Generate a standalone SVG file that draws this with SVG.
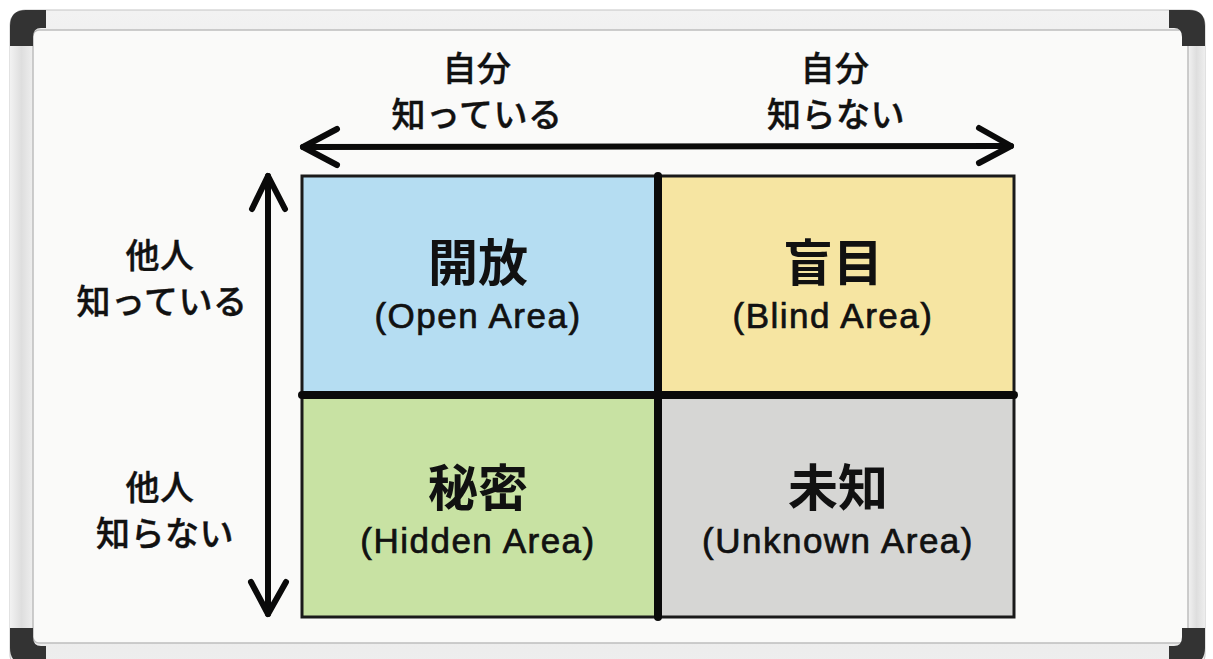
<svg xmlns="http://www.w3.org/2000/svg" width="1213" height="659" viewBox="0 0 1213 659">
  <defs>
    <linearGradient id="frameH" x1="0" y1="0" x2="0" y2="1">
      <stop offset="0" stop-color="#f2f2f2"/>
      <stop offset="0.5" stop-color="#dedede"/>
      <stop offset="1" stop-color="#eeeeee"/>
    </linearGradient>
    <linearGradient id="frameV" x1="0" y1="0" x2="1" y2="0">
      <stop offset="0" stop-color="#f2f2f2"/>
      <stop offset="0.5" stop-color="#dedede"/>
      <stop offset="1" stop-color="#eeeeee"/>
    </linearGradient>
    <path id="corner" d="M10,46 L10,26 Q10,10 26,10 L46,10 L46,28 L41,28 Q33,28 33,37 L33,46 Z" fill="#333333"/>
  </defs>
  <style>
    .lbl { font-family: "Noto Sans CJK JP", "Noto Sans", sans-serif; font-weight: 500; font-size: 34px; letter-spacing: 0.5px; fill: #111; stroke: #111; stroke-width: 0.4; text-anchor: middle; }
    .title { font-family: "Noto Sans CJK JP", sans-serif; font-weight: 700; font-size: 50px; fill: #111; text-anchor: middle; }
    .sub { font-family: "Liberation Sans", "Noto Sans", sans-serif; font-size: 35px; letter-spacing: 1.5px; fill: #111; stroke: #111; stroke-width: 0.7; text-anchor: middle; }
    .arrow { fill: none; stroke: #0a0a0a; stroke-width: 6; stroke-linecap: round; stroke-linejoin: round; }
    .cell { stroke: #1a1a1a; stroke-width: 3; }
    .divider { stroke: #0a0a0a; stroke-width: 8; stroke-linecap: round; }
  </style>

  <!-- whiteboard -->
  <g id="board">
    <rect x="0" y="0" width="1213" height="659" fill="#ffffff"/>
    <rect x="10" y="10" width="1195" height="660" rx="14" fill="url(#frameH)" stroke="#c4c4c4" stroke-width="1"/>
    <rect x="10" y="30" width="23" height="620" fill="url(#frameV)"/>
    <rect x="1188" y="30" width="17" height="620" fill="url(#frameV)"/>
    <rect x="33" y="30" width="1155" height="613" rx="6" fill="#fafaf9" stroke="#bdbdbd" stroke-width="1.5"/>
    <use href="#corner"/>
    <use href="#corner" transform="translate(1215,0) scale(-1,1)"/>
    <use href="#corner" transform="translate(0,674) scale(1,-1)"/>
    <use href="#corner" transform="translate(1215,674) scale(-1,-1)"/>
  </g>

  <!-- quadrants -->
  <g id="open-area">
    <rect class="cell" x="302" y="176" width="356" height="219" fill="#b5ddf2"/>
    <text class="title" x="478" y="281">開放</text>
    <text class="sub" x="478" y="328">(Open Area)</text>
  </g>
  <g id="blind-area">
    <rect class="cell" x="658" y="176" width="356" height="219" fill="#f6e5a2"/>
    <text class="title" x="833" y="281">盲目</text>
    <text class="sub" x="833" y="328">(Blind Area)</text>
  </g>
  <g id="hidden-area">
    <rect class="cell" x="302" y="395" width="356" height="222" fill="#c8e2a3"/>
    <text class="title" x="478" y="506">秘密</text>
    <text class="sub" x="478" y="553">(Hidden Area)</text>
  </g>
  <g id="unknown-area">
    <rect class="cell" x="658" y="395" width="356" height="222" fill="#d6d6d4"/>
    <text class="title" x="838" y="506">未知</text>
    <text class="sub" x="838" y="553">(Unknown Area)</text>
  </g>

  <!-- axis labels -->
  <g id="label-self-known">
    <text class="lbl" x="477" y="81">自分</text>
    <text class="lbl" x="477" y="127">知っている</text>
  </g>
  <g id="label-self-unknown">
    <text class="lbl" x="835" y="81">自分</text>
    <text class="lbl" x="836" y="127">知らない</text>
  </g>
  <g id="label-others-known">
    <text class="lbl" x="160" y="268">他人</text>
    <text class="lbl" x="162" y="314">知っている</text>
  </g>
  <g id="label-others-unknown">
    <text class="lbl" x="160" y="500">他人</text>
    <text class="lbl" x="165" y="546">知らない</text>
  </g>

  <!-- connectors -->
  <g id="connectors">
    <line class="divider" x1="658" y1="176" x2="658" y2="617"/>
    <line class="divider" x1="302" y1="395" x2="1014" y2="395"/>
    <path class="arrow" d="M303,147 L1011,146"/>
    <path class="arrow" d="M337,129 L303,147 L337,165"/>
    <path class="arrow" d="M979,128 L1011,146 L979,163"/>
    <path class="arrow" d="M268,176 L268,614"/>
    <path class="arrow" d="M252,209 L268,176 L285,209"/>
    <path class="arrow" d="M251,582 L268,614 L286,582"/>
  </g>
</svg>
